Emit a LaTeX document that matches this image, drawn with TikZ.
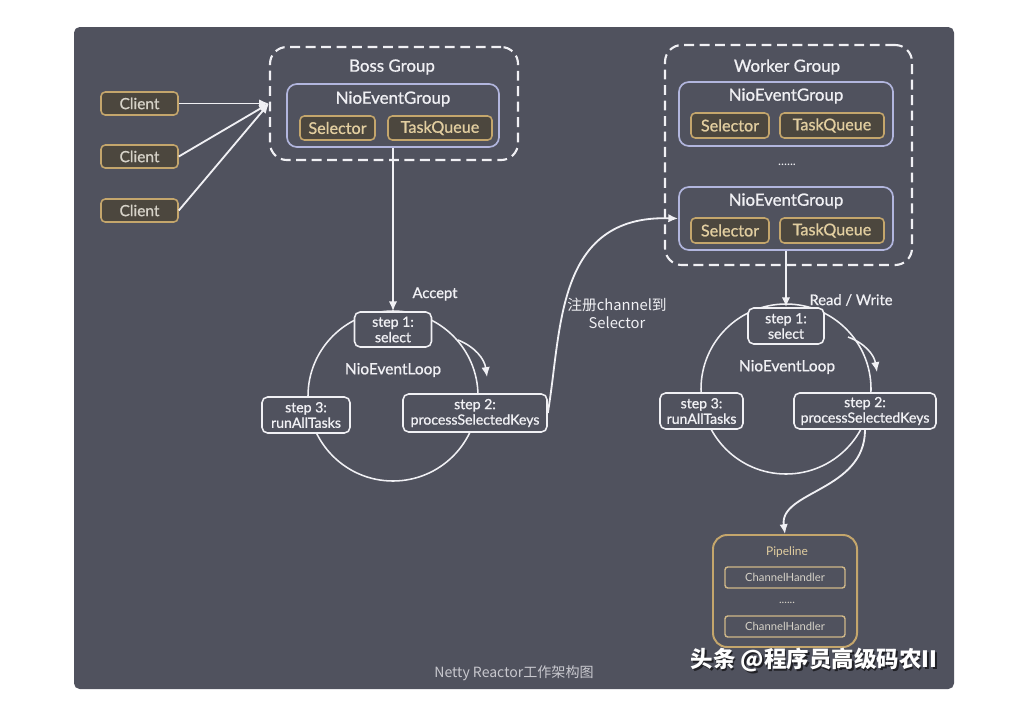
\documentclass[tikz,border=0pt]{standalone}
\usepackage{fontspec}
\setmainfont{Lato}
\newfontfamily\medfont{Lato}[FakeBold=0.9]
\newfontfamily\cjk{Noto Sans CJK SC}
\usepackage{tikz}
\usetikzlibrary{arrows.meta, shapes, calc, positioning}
\usepackage{xcolor}

\definecolor{panelbg}{RGB}{80,82,94}
\definecolor{lavender}{RGB}{178,182,222}
\definecolor{goldline}{RGB}{196,166,108}
\definecolor{goldfill}{RGB}{76,71,62}
\definecolor{goldtext}{RGB}{226,206,160}
\definecolor{clitext}{RGB}{214,210,200}
\definecolor{softwhite}{RGB}{240,240,244}
\definecolor{captext}{RGB}{200,200,206}

\tikzset{
  wh/.style 2 args={minimum width=#1*0.025cm, minimum height=#2*0.025cm},
  grp/.style={draw=softwhite, line width=1.5pt, dash pattern=on 7pt off 4pt,
    rounded corners=12pt, inner sep=0pt},
  nio/.style={draw=lavender, line width=1.2pt, rounded corners=7pt, inner sep=0pt},
  goldbox/.style={draw=goldline, fill=goldfill, line width=1.1pt, rounded corners=3pt,
    text=goldtext, inner sep=0pt, font=\medfont\fontsize{11.5}{13}\selectfont},
  client/.style={text=clitext, font=\medfont\fontsize{11}{13}\selectfont},
  stepbox/.style={draw=softwhite, fill=panelbg, line width=1.1pt, rounded corners=4pt,
    align=center, inner sep=0pt, text=softwhite, font=\medfont\fontsize{10}{11}\selectfont},
  ring/.style={circle, draw=softwhite, line width=1.1pt, inner sep=0pt,
    minimum size=170*0.025cm},
  title/.style={text=softwhite, inner sep=1pt, font=\medfont\fontsize{12}{14}\selectfont},
  lbl/.style={text=softwhite, inner sep=1pt, font=\medfont\fontsize{10.5}{12}\selectfont},
  conn/.style={draw=softwhite, line width=1.3pt, -{Latex[length=7pt,width=6pt]}},
  chbox/.style={draw=goldline!80!white, line width=1pt, rounded corners=2pt, inner sep=0pt,
    text=clitext, font=\fontsize{8}{10}\selectfont},
}

\begin{document}
\begin{tikzpicture}[x=0.025cm, y=-0.025cm]
  \useasboundingbox (0,0) rectangle (1029,718);
  % dark panel
  \fill[panelbg, rounded corners=4pt] (74,27) rectangle (954,689);

  % boss group
  \node[grp, wh={248}{113}] (bossgrp) at (394,103.5) {};
  \node[title] (bosstitle) at (392,67) {Boss Group};
  \node[nio, wh={212}{63}] (bossnio) at (393,115.5) {};
  \node[title] (bossniotxt) at (393,99) {NioEventGroup};
  \node[goldbox, wh={75}{24}] (bosssel) at (337.5,128) {Selector};
  \node[goldbox, wh={104}{24}] (bosstq) at (440,128) {TaskQueue};

  % clients
  \foreach \y [count=\i] in {103.5,156.5,210.5}
    \node[goldbox, client, wh={77}{23}] (cli\i) at (139.5,\y) {Client};
  \foreach \i in {1,2,3}
    \draw[conn] (cli\i.east) -- (bossgrp.west);

  % worker group
  \node[grp, wh={247}{220}] (wrkgrp) at (788.5,155) {};
  \node[title] (wrktitle) at (787,67) {Worker Group};
  \node[nio, wh={214}{64}] (wnio1) at (786,114) {};
  \node[title] (wnio1txt) at (786,96) {NioEventGroup};
  \node[goldbox, wh={78}{25}] (wsel1) at (730,125.5) {Selector};
  \node[goldbox, wh={104}{25}] (wtq1) at (832,125.5) {TaskQueue};
  \node[text=softwhite, font=\fontsize{9}{10}\selectfont] (wdots) at (787,165) {......};
  \node[nio, wh={214}{63}] (wnio2) at (786,218.5) {};
  \node[title] (wnio2txt) at (786,201) {NioEventGroup};
  \node[goldbox, wh={78}{25}] (wsel2) at (730,230.5) {Selector};
  \node[goldbox, wh={104}{25}] (wtq2) at (832,230.5) {TaskQueue};

  % boss event loop
  \node[ring] (lloop) at (393,396) {};
  \node[lbl, font=\medfont\fontsize{11}{12}\selectfont] (lloopttl) at (393,370) {NioEventLoop};
  \node[stepbox, wh={77}{35}] (bstep1) at (393,329.5) {step 1:\\select};
  \node[stepbox, wh={88}{36}] (bstep3) at (306,415) {step 3:\\runAllTasks};
  \node[stepbox, wh={144}{38}] (bstep2) at (475,413) {step 2:\\processSelectedKeys};
  \coordinate (lc1) at (458,340);
  \coordinate (lc2) at (487,377);
  \draw[conn, line width=1.1pt] (lc1) to[bend left=30] (lc2);

  % worker event loop
  \node[ring] (rloop) at (786,389) {};
  \node[lbl, font=\medfont\fontsize{11}{12}\selectfont] (rloopttl) at (787,367) {NioEventLoop};
  \node[stepbox, wh={76}{36}] (rstep1) at (786,326) {step 1:\\select};
  \node[stepbox, wh={83}{36}] (rstep3) at (701.5,411) {step 3:\\runAllTasks};
  \node[stepbox, wh={142}{36}] (rstep2) at (865,411) {step 2:\\processSelectedKeys};
  \coordinate (rc1) at (848,337);
  \coordinate (rc2) at (877,372);
  \draw[conn, line width=1.1pt] (rc1) to[bend left=30] (rc2);

  % pipeline
  \node[draw=goldline, line width=1.4pt, rounded corners=10pt, inner sep=0pt,
    wh={144}{112}] (pipe) at (785,591) {};
  \node[text=goldtext, font=\fontsize{8.5}{10}\selectfont] (pipettl) at (787,552) {Pipeline};
  \node[chbox, wh={120}{21}] (ch1) at (785,577.5) {ChannelHandler};
  \node[text=clitext, font=\fontsize{8}{9}\selectfont] (pdots) at (787,603) {......};
  \node[chbox, wh={120}{21}] (ch2) at (785,626.5) {ChannelHandler};

  % connectors between stages
  \draw[conn] (bossnio.south) -- (bstep1.north);
  \node[lbl] (acc) at (435,294) {Accept};
  \draw[conn] (wnio2.south) -- (rstep1.north);
  \node[lbl] (rw) at (851,300) {Read / Write};
  \draw[conn] (bstep2.east) .. controls (562,330) and (555,215) .. (wnio2.west);
  \node[text=softwhite, align=center, font=\cjk\fontsize{10.5}{13}\selectfont] (reg)
    at (617,313) {注册channel到\\Selector};
  \draw[conn] (rstep2.south) .. controls (865,491) and (779,491) .. (pipe.north);

  % caption and watermark
  \node[text=captext, font=\cjk\fontsize{10}{12}\selectfont] (cap) at (514,673)
    {Netty Reactor工作架构图};
  \node[text=black, opacity=0.6, font=\cjk\bfseries\fontsize{16}{18}\selectfont]
    at (815.5,661.5) {头条 @程序员高级码农II};
  \node[text=white, font=\cjk\bfseries\fontsize{16}{18}\selectfont] (wmark)
    at (814,660) {头条 @程序员高级码农II};
\end{tikzpicture}
\end{document}
